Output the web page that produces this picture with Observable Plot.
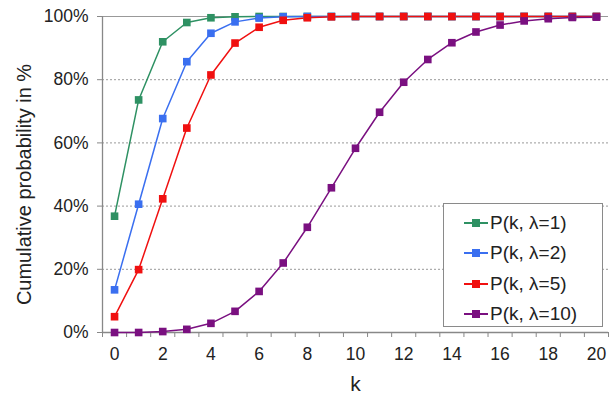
<!DOCTYPE html>
<html>
<head>
<meta charset="utf-8">
<script src="https://cdn.jsdelivr.net/npm/d3@7"></script>
<script src="https://cdn.jsdelivr.net/npm/@observablehq/plot@0.6"></script>
<style>
  html, body { margin: 0; padding: 0; background: #fff; }
  #wrap { position: relative; width: 611px; height: 405px; font-family: "Liberation Sans", Arial, sans-serif; }
  #legend { position: absolute; left: 443px; top: 203px; width: 160px; height: 124px; border: 1px solid #8a8a8a; background: #fff; box-sizing: border-box; }
  .item { position: absolute; left: 20px; height: 22px; display: flex; align-items: center; font-size: 19px; color: #222; white-space: nowrap; }
  .sw { position: relative; width: 24px; height: 20px; margin-right: 2px; }
  .sw .ln { position: absolute; left: 0; right: 0; top: 9px; height: 2px; }
  .sw .mk { position: absolute; left: 8px; top: 6px; width: 8px; height: 8px; }
</style>
</head>
<body>
<div id="wrap"></div>
<script>
const ks = [0,1,2,3,4,5,6,7,8,9,10,11,12,13,14,15,16,17,18,19,20];
const seriesNames = ["P(k, λ=1)", "P(k, λ=2)", "P(k, λ=5)", "P(k, λ=10)"];
const seriesColors = ["#2e9163", "#3a6ff0", "#f01010", "#7a1080"];
const s1 = [0.368,0.736,0.920,0.981,0.996,0.999,1,1,1,1,1,1,1,1,1,1,1,1,1,1,1];
const s2 = [0.135,0.406,0.677,0.857,0.947,0.983,0.995,0.999,1,1,1,1,1,1,1,1,1,1,1,1,1];
const s3 = [0.050,0.199,0.423,0.647,0.815,0.916,0.966,0.988,0.996,0.999,1,1,1,1,1,1,1,1,1,1,1];
const s4 = [0.000,0.000,0.003,0.010,0.029,0.067,0.130,0.220,0.333,0.458,0.583,0.697,0.792,0.864,0.917,0.951,0.973,0.986,0.993,0.997,0.998];
const yTicks = [0, 0.2, 0.4, 0.6, 0.8, 1.0];
const xLabels = [0,2,4,6,8,10,12,14,16,18,20];
const xTickMarks = [-0.5,0.5,1.5,2.5,3.5,4.5,5.5,6.5,7.5,8.5,9.5,10.5,11.5,12.5,13.5,14.5,15.5,16.5,17.5,18.5,19.5,20.5];

const allSeries = [s1, s2, s3, s4];
const data = [];
allSeries.forEach((vals, i) => vals.forEach((v, j) => data.push({k: ks[j], p: v, s: seriesNames[i]})));

const chart = Plot.plot({
  width: 611,
  height: 405,
  marginLeft: 102,
  marginRight: 3,
  marginTop: 16,
  marginBottom: 73,
  style: "font-family: 'Liberation Sans', Arial, sans-serif; font-size: 17px; color: #222; background: #fff; overflow: visible;",
  x: {domain: [-0.5, 20.5]},
  y: {domain: [0, 1]},
  color: {domain: seriesNames, range: seriesColors},
  marks: [
    Plot.ruleY(yTicks.filter(d => d > 0 && d < 1), {stroke: "#999", strokeDasharray: "2,2", strokeWidth: 1}),
    Plot.ruleY([1], {stroke: "#999", strokeWidth: 1}),
    Plot.axisY({ticks: yTicks, tickFormat: d => Math.round(d * 100) + "%", tickSize: 5, tickPadding: 9, stroke: "#888", label: null, fontSize: "17.5px"}),
    Plot.axisX({ticks: xTickMarks, tickFormat: () => "", tickSize: 5, stroke: "#888", label: null}),
    Plot.axisX({ticks: xLabels, tickSize: 0, tickPadding: 15, label: null, fontSize: "17.5px"}),
    Plot.ruleX([-0.5], {stroke: "#888", strokeWidth: 1.3}),
    Plot.ruleY([0], {stroke: "#888", strokeWidth: 1.3}),
    Plot.line(data, {x: "k", y: "p", z: "s", stroke: "s", strokeWidth: 1.5}),
    Plot.dot(data, {x: "k", y: "p", fill: "s", symbol: "square", r: 4.3, stroke: null}),
    Plot.text(["k"], {frameAnchor: "bottom", dy: 58, fontSize: "21px", fill: "#222"}),
    Plot.text(["Cumulative probability in %"], {frameAnchor: "left", textAnchor: "middle", dx: -78, dy: 10, rotate: -90, fontSize: "20px", fill: "#222"})
  ]
});
const wrap = document.getElementById("wrap");
wrap.appendChild(chart);

const legend = document.createElement("div");
legend.id = "legend";
const tops = [8, 38, 69, 99];
seriesNames.forEach((n, i) => {
  const it = document.createElement("div");
  it.className = "item";
  it.style.top = tops[i] + "px";
  it.innerHTML = `<span class="sw"><span class="ln" style="background:${seriesColors[i]}"></span><span class="mk" style="background:${seriesColors[i]}"></span></span><span>${n}</span>`;
  legend.appendChild(it);
});
wrap.appendChild(legend);
</script>
</body>
</html>
